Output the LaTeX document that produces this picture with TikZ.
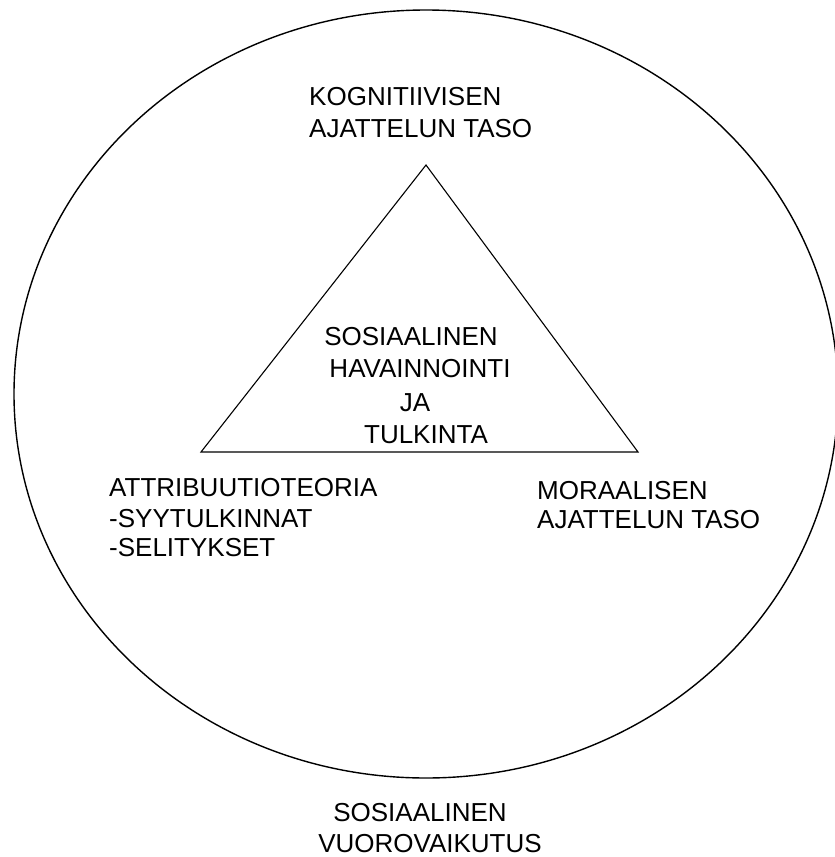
\documentclass[tikz,border=0pt]{standalone}
\usepackage{fontspec}
\setmainfont{Liberation Sans}
\begin{document}
\begin{tikzpicture}[x=1pt,y=-1pt,
  lbl/.style={inner sep=0pt,anchor=base west,font=\fontsize{26}{30}\selectfont},
  shapeline/.style={line width=1.4pt,black}]
\useasboundingbox (0,0) rectangle (835,857);
\begin{scope}
\clip (0,0) rectangle (835,857);
\draw[shapeline] (426,394) ellipse [x radius=412, y radius=384];
\end{scope}
\coordinate (apex) at (426,165);
\coordinate (bl) at (201,452);
\coordinate (br) at (638,452);
\draw[shapeline,line width=1.1pt,line join=miter] (apex) -- (bl) -- (br) -- cycle;
% top
\node[lbl] (k1) at (309,105) {KOGNITIIVISEN};
\node[lbl] (k2) at (309,137) {AJATTELUN TASO};
% center
\node[lbl,anchor=base] (c1) at (411,345) {SOSIAALINEN};
\node[lbl,anchor=base] (c2) at (420,377) {HAVAINNOINTI};
\node[lbl,anchor=base] (c3) at (415,411) {JA};
\node[lbl,anchor=base] (c4) at (426,443) {TULKINTA};
% left
\node[lbl] (a1) at (109,496) {ATTRIBUUTIOTEORIA};
\node[lbl] (a2) at (109,527) {-SYYTULKINNAT};
\node[lbl] (a3) at (109,556) {-SELITYKSET};
% right
\node[lbl] (m1) at (537,499) {MORAALISEN};
\node[lbl] (m2) at (537,528) {AJATTELUN TASO};
% bottom
\node[lbl,anchor=base] (s1) at (420,821) {SOSIAALINEN};
\node[lbl,anchor=base] (s2) at (430,852) {VUOROVAIKUTUS};
\end{tikzpicture}
\end{document}
